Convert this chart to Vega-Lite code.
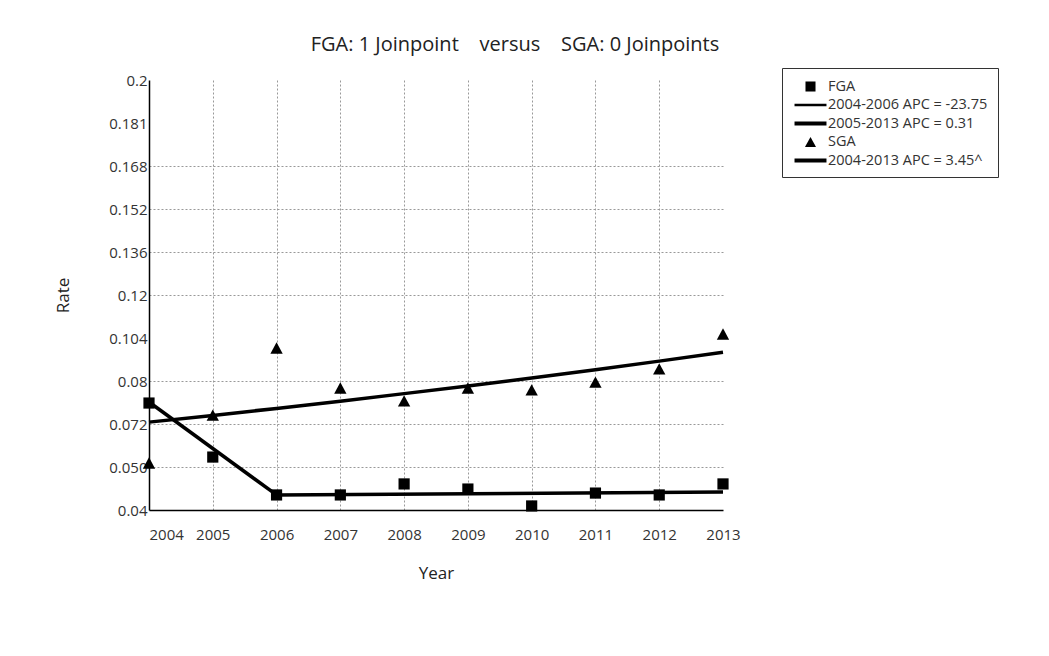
{
  "$schema": "https://vega.github.io/schema/vega-lite/v6.json",
  "width": 574,
  "height": 430,
  "autosize": {"type": "none"},
  "padding": {"left": 149, "top": 80, "right": 326, "bottom": 146},
  "background": "white",
  "config": {
    "font": "Open Sans",
    "view": {"stroke": null}
  },
  "title": {
    "text": "FGA: 1 Joinpoint\u00a0\u00a0\u00a0\u00a0versus\u00a0\u00a0\u00a0\u00a0SGA: 0 Joinpoints",
    "fontSize": 20,
    "fontWeight": "normal",
    "color": "#222",
    "anchor": "middle",
    "frame": "group",
    "offset": 13,
    "dx": 79
  },
  "datasets": {
    "obs": [
      {"year": 2004, "rate": 0.0798, "series": "FGA"},
      {"year": 2005, "rate": 0.0597, "series": "FGA"},
      {"year": 2006, "rate": 0.0456, "series": "FGA"},
      {"year": 2007, "rate": 0.0456, "series": "FGA"},
      {"year": 2008, "rate": 0.0497, "series": "FGA"},
      {"year": 2009, "rate": 0.0478, "series": "FGA"},
      {"year": 2010, "rate": 0.0415, "series": "FGA"},
      {"year": 2011, "rate": 0.0463, "series": "FGA"},
      {"year": 2012, "rate": 0.0456, "series": "FGA"},
      {"year": 2013, "rate": 0.0497, "series": "FGA"},
      {"year": 2004, "rate": 0.0575, "series": "SGA"},
      {"year": 2005, "rate": 0.0753, "series": "SGA"},
      {"year": 2006, "rate": 0.1003, "series": "SGA"},
      {"year": 2007, "rate": 0.0854, "series": "SGA"},
      {"year": 2008, "rate": 0.0806, "series": "SGA"},
      {"year": 2009, "rate": 0.0854, "series": "SGA"},
      {"year": 2010, "rate": 0.0847, "series": "SGA"},
      {"year": 2011, "rate": 0.0876, "series": "SGA"},
      {"year": 2012, "rate": 0.0925, "series": "SGA"},
      {"year": 2013, "rate": 0.1055, "series": "SGA"}
    ],
    "fit": [
      {"year": 2004, "rate": 0.0802, "segment": "FGA 2004-2006"},
      {"year": 2006, "rate": 0.0456, "segment": "FGA 2004-2006"},
      {"year": 2006, "rate": 0.0456, "segment": "FGA 2005-2013"},
      {"year": 2013, "rate": 0.0467, "segment": "FGA 2005-2013"},
      {"year": 2004, "rate": 0.0727, "segment": "SGA 2004-2013"},
      {"year": 2005, "rate": 0.0752, "segment": "SGA 2004-2013"},
      {"year": 2006, "rate": 0.0778, "segment": "SGA 2004-2013"},
      {"year": 2007, "rate": 0.0805, "segment": "SGA 2004-2013"},
      {"year": 2008, "rate": 0.0833, "segment": "SGA 2004-2013"},
      {"year": 2009, "rate": 0.0861, "segment": "SGA 2004-2013"},
      {"year": 2010, "rate": 0.0891, "segment": "SGA 2004-2013"},
      {"year": 2011, "rate": 0.0922, "segment": "SGA 2004-2013"},
      {"year": 2012, "rate": 0.0954, "segment": "SGA 2004-2013"},
      {"year": 2013, "rate": 0.0987, "segment": "SGA 2004-2013"}
    ]
  },
  "encoding": {
    "x": {
      "field": "year",
      "type": "quantitative",
      "scale": {"domain": [2004, 2013], "nice": false, "zero": false},
      "axis": {
        "title": "Year",
        "titleFontSize": 17,
        "titleFontWeight": "normal",
        "titleColor": "#222",
        "titlePadding": 23,
        "values": [2004, 2005, 2006, 2007, 2008, 2009, 2010, 2011, 2012, 2013],
        "format": "d",
        "labelFontSize": 15,
        "labelColor": "#333",
        "labelPadding": 17,
        "labelFlush": false,
        "labelAlign": {"condition": {"test": "datum.value == 2004", "value": "left"}, "value": "center"},
        "ticks": false,
        "tickSize": 0,
        "domainColor": "black",
        "domainWidth": 1.5,
        "grid": true,
        "gridColor": "#999",
        "gridDash": [2, 2],
        "gridWidth": 1,
        "gridOpacity": {"condition": {"test": "datum.value == 2004 || datum.value == 2013", "value": 0}, "value": 1}
      }
    },
    "y": {
      "field": "rate",
      "type": "quantitative",
      "scale": {"domain": [0.04, 0.2], "nice": false, "zero": false},
      "axis": {
        "title": "Rate",
        "titleFontSize": 17,
        "titleFontWeight": "normal",
        "titleColor": "#222",
        "titlePadding": 36,
        "values": [0.04, 0.056, 0.072, 0.088, 0.104, 0.12, 0.136, 0.152, 0.168, 0.184, 0.2],
        "labelExpr": "abs(datum.value-0.056)<0.001 ? '0.050' : abs(datum.value-0.088)<0.001 ? '0.08' : abs(datum.value-0.184)<0.001 ? '0.181' : format(datum.value, '.3~f')",
        "labelFontSize": 15,
        "labelColor": "#333",
        "labelPadding": 2,
        "ticks": false,
        "tickSize": 0,
        "domainColor": "black",
        "domainWidth": 1.5,
        "grid": true,
        "gridColor": "#999",
        "gridDash": [2, 2],
        "gridWidth": 1,
        "gridOpacity": {"condition": {"test": "abs(datum.value-0.104)<0.001 || abs(datum.value-0.184)<0.001 || datum.value < 0.041 || datum.value > 0.199", "value": 0}, "value": 1}
      }
    }
  },
  "layer": [
    {
      "mark": {"type": "rule", "color": "black", "strokeWidth": 1.5},
      "encoding": {
        "x": {"datum": 2004, "type": "quantitative"},
        "x2": {"datum": 2013},
        "y": {"datum": 0.2, "type": "quantitative"}
      }
    },
    {
      "data": {"name": "fit"},
      "mark": {"type": "line", "color": "black", "strokeWidth": 3.5},
      "encoding": {
        "detail": {"field": "segment", "type": "nominal"}
      }
    },
    {
      "data": {"name": "obs"},
      "mark": {"type": "point", "filled": true, "color": "black", "opacity": 1, "size": 360},
      "encoding": {
        "shape": {
          "field": "series",
          "type": "nominal",
          "scale": {
            "domain": ["FGA", "2004-2006 APC = -23.75", "2005-2013 APC = 0.31", "SGA", "2004-2013 APC = 3.45^"],
            "range": [
              "M-0.59,-0.59H0.59V0.59H-0.59Z",
              "M-1.88,-0.14H1.88V0.14H-1.88Z",
              "M-1.88,-0.23H1.88V0.23H-1.88Z",
              "M0,-0.6L0.65,0.6H-0.65Z",
              "M-1.88,-0.23H1.88V0.23H-1.88Z"
            ]
          },
          "legend": {
            "title": null,
            "orient": "none",
            "legendX": 633,
            "legendY": -12,
            "padding": 10,
            "strokeColor": "#333",
            "fillColor": "white",
            "symbolSize": 289,
            "symbolFillColor": "black",
            "symbolStrokeWidth": 0,
            "symbolOpacity": 1,
            "symbolOffset": 10,
            "labelOffset": 9,
            "labelFontSize": 14.5,
            "labelColor": "#333",
            "labelLimit": 300,
            "rowPadding": 3.5,
            "encode": {
              "legend": {"update": {"strokeWidth": {"value": 1.5}}}
            }
          }
        }
      }
    }
  ]
}
